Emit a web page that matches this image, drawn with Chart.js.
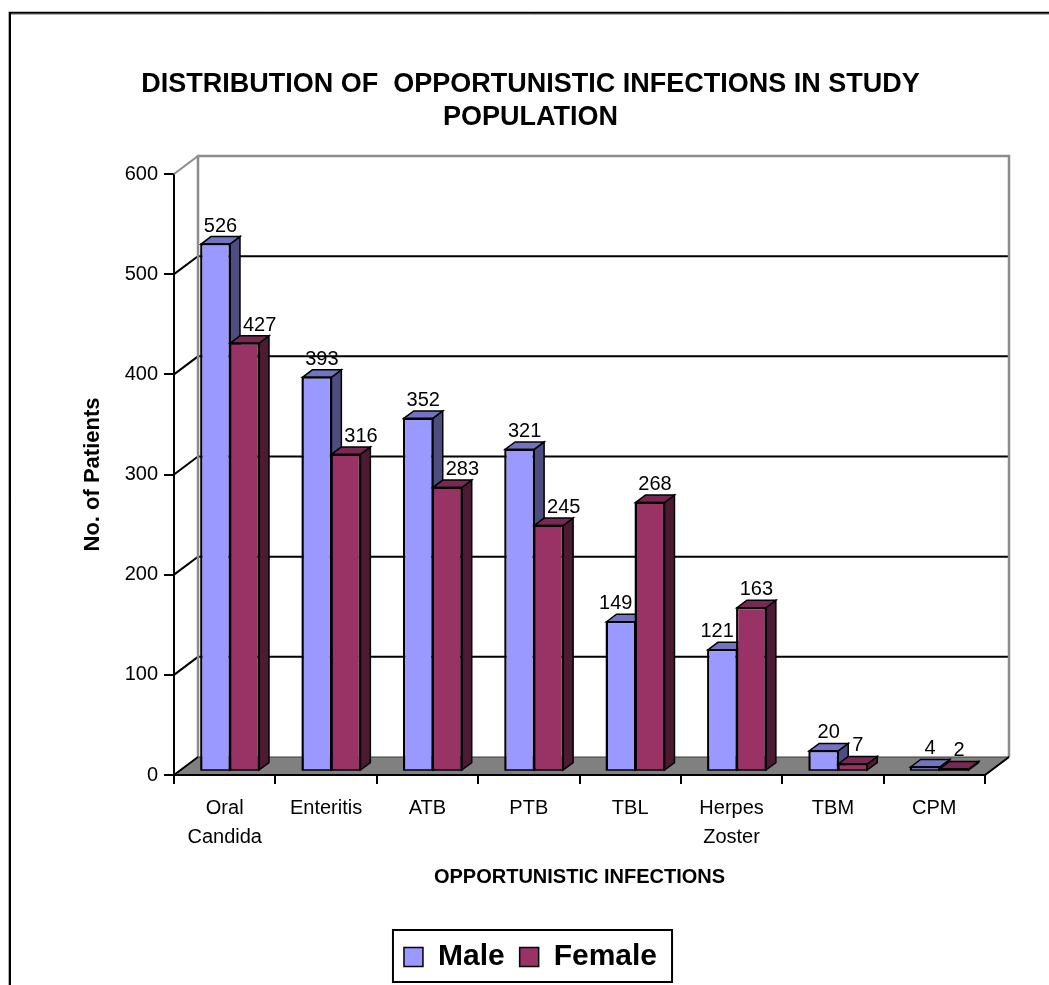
<!DOCTYPE html>
<html><head><meta charset="utf-8">
<style>html,body{margin:0;padding:0;background:#fff;} canvas{display:block;}</style>
<script src="https://cdn.jsdelivr.net/npm/chart.js@4.4.1/dist/chart.umd.min.js"></script>
</head><body>
<canvas id="c" width="1049" height="985" style="width:1049px;height:985px"></canvas>
<script>
// ---- data ----
const categories = [["Oral","Candida"],"Enteritis","ATB","PTB","TBL",["Herpes","Zoster"],"TBM","CPM"];
const maleValues = [526,393,352,321,149,121,20,4];
const femaleValues = [427,316,283,245,268,163,7,2];
const yTicks = [0,100,200,300,400,500,600];
const seriesNames = ["Male","Female"];
const titleLines = ["DISTRIBUTION OF  OPPORTUNISTIC INFECTIONS IN STUDY","POPULATION"];
const xTitle = "OPPORTUNISTIC INFECTIONS";
const yTitle = "No. of Patients";

// ---- style ----
const FONT = '"Liberation Sans", Arial, Helvetica, sans-serif';
const FACE = [
  {front:'#9999FF', top:'#7373C2', side:'#4D4D80'},
  {front:'#993366', top:'#772853', side:'#4D1A33'}
];
const WALL_DX = 24, WALL_DY = -18;   // depth of the 3D walls
const BAR_SX = 5.3, BAR_SY = -4;     // bar plane shift
const BAR_DX = 10, BAR_DY = -7.5;    // bar depth

const scene3d = {
  id: 'scene3d',
  beforeDraw(chart) {
    const ctx = chart.ctx;
    ctx.save();
    ctx.fillStyle = '#fff';
    ctx.fillRect(0, 0, chart.width, chart.height);
    ctx.strokeStyle = '#b0b0b0'; ctx.lineWidth = 1;
    ctx.beginPath(); ctx.moveTo(8.5, 985); ctx.lineTo(8.5, 11.5); ctx.stroke();
    ctx.beginPath(); ctx.moveTo(10, 14.5); ctx.lineTo(1049, 14.5); ctx.stroke();
    ctx.strokeStyle = '#000'; ctx.lineWidth = 2;
    ctx.beginPath(); ctx.moveTo(10, 985); ctx.lineTo(10, 12.7); ctx.lineTo(1049, 12.7); ctx.stroke();
    ctx.restore();
  },
  beforeDatasetsDraw(chart) {
    const ctx = chart.ctx, a = chart.chartArea, ys = chart.scales.y;
    const L = a.left, R = a.right;
    const y0 = ys.getPixelForValue(0);
    const yTop = ys.getPixelForValue(ys.max);
    ctx.save();
    ctx.fillStyle = '#fff';
    ctx.fillRect(L + WALL_DX, yTop + WALL_DY, R - L, y0 - yTop);
    yTicks.forEach(v => {
      if (v === 0) return;
      const yp = ys.getPixelForValue(v);
      if (v === ys.max) {
        ctx.strokeStyle = '#8c8c8c'; ctx.lineWidth = 2;
        ctx.beginPath(); ctx.moveTo(L, yp); ctx.lineTo(L + WALL_DX, yp + WALL_DY); ctx.stroke();
      } else {
        ctx.strokeStyle = '#000'; ctx.lineWidth = 2;
        ctx.beginPath(); ctx.moveTo(L, yp); ctx.lineTo(L + WALL_DX, yp + WALL_DY);
        ctx.lineTo(R + WALL_DX, yp + WALL_DY); ctx.stroke();
      }
    });
    ctx.strokeStyle = '#8c8c8c'; ctx.lineWidth = 2.5;
    ctx.beginPath();
    ctx.moveTo(L + WALL_DX, y0 + WALL_DY);
    ctx.lineTo(L + WALL_DX, yTop + WALL_DY);
    ctx.lineTo(R + WALL_DX, yTop + WALL_DY);
    ctx.lineTo(R + WALL_DX, y0 + WALL_DY);
    ctx.stroke();
    ctx.beginPath();
    ctx.moveTo(L, y0); ctx.lineTo(R, y0);
    ctx.lineTo(R + WALL_DX, y0 + WALL_DY); ctx.lineTo(L + WALL_DX, y0 + WALL_DY);
    ctx.closePath();
    ctx.fillStyle = '#808080'; ctx.fill();
    ctx.strokeStyle = '#3a3a3a'; ctx.lineWidth = 1; ctx.stroke();
    ctx.strokeStyle = '#000'; ctx.lineWidth = 2;
    ctx.beginPath(); ctx.moveTo(L + WALL_DX, y0 + WALL_DY); ctx.lineTo(L, y0); ctx.lineTo(R, y0);
    ctx.lineTo(R + WALL_DX, y0 + WALL_DY); ctx.stroke();
    ctx.restore();
  },
  // bars are drawn below, category by category, so that 3D faces overlap correctly
  beforeDatasetDraw() { return false; },
  afterDatasetsDraw(chart) {
    const ctx = chart.ctx;
    const metas = [chart.getDatasetMeta(0), chart.getDatasetMeta(1)];
    ctx.save();
    ctx.translate(BAR_SX, BAR_SY);
    categories.forEach((c, i) => {
      metas.forEach((meta, di) => {
        const bar = meta.data[i];
        if (!bar) return;
        const col = FACE[di];
        bar.draw(ctx, chart.chartArea);
        const l = bar.x - bar.width / 2, r = bar.x + bar.width / 2, t = bar.y, b = bar.base;
        ctx.lineWidth = 1.5; ctx.strokeStyle = '#000'; ctx.lineJoin = 'miter';
        ctx.beginPath();
        ctx.moveTo(r, t); ctx.lineTo(r + BAR_DX, t + BAR_DY);
        ctx.lineTo(r + BAR_DX, b + BAR_DY); ctx.lineTo(r, b); ctx.closePath();
        ctx.fillStyle = col.side; ctx.fill(); ctx.stroke();
        ctx.beginPath();
        ctx.moveTo(l, t); ctx.lineTo(l + BAR_DX, t + BAR_DY);
        ctx.lineTo(r + BAR_DX, t + BAR_DY); ctx.lineTo(r, t); ctx.closePath();
        ctx.fillStyle = col.top; ctx.fill(); ctx.stroke();
        ctx.strokeRect(l, t, r - l, b - t);
      });
    });
    ctx.restore();

    // value labels
    ctx.save();
    ctx.font = '20px ' + FONT;
    ctx.fillStyle = '#000';
    ctx.textAlign = 'center';
    ctx.textBaseline = 'alphabetic';
    [0, 1].forEach(di => {
      const meta = metas[di], other = metas[1 - di];
      const vals = chart.data.datasets[di].data;
      meta.data.forEach((bar, i) => {
        const txt = String(vals[i]);
        const w = ctx.measureText(txt).width;
        let cx = bar.x + BAR_SX + BAR_DX / 2;
        const by = bar.y + BAR_SY + BAR_DY - 5;
        const ob = other.data[i];
        const oTop = ob.y + BAR_SY + BAR_DY;
        if (di === 1) {
          const mRight = ob.x + ob.width / 2 + BAR_SX + BAR_DX;
          if (by > oTop && cx - w / 2 < mRight + 3) cx = mRight + 3 + w / 2;
        } else {
          const fLeft = ob.x - ob.width / 2 + BAR_SX;
          if (by > oTop && cx + w / 2 > fLeft - 3) cx = fLeft - 3 - w / 2;
        }
        ctx.fillText(txt, cx, by);
      });
    });
    ctx.restore();
  },
  afterDraw(chart) {
    const lg = chart.legend;
    if (!lg || !lg.legendHitBoxes || !lg.legendHitBoxes.length) return;
    const hb = lg.legendHitBoxes;
    let left = Infinity, right = -Infinity;
    hb.forEach(b => { left = Math.min(left, b.left); right = Math.max(right, b.left + b.width); });
    const c = hb[0].top + hb[0].height / 2;
    const ctx = chart.ctx;
    ctx.save();
    ctx.strokeStyle = '#000'; ctx.lineWidth = 2;
    ctx.strokeRect(left - 11, c - 27, (right + 15) - (left - 11), 52);
    ctx.restore();
  }
};

new Chart(document.getElementById('c'), {
  type: 'bar',
  data: {
    labels: categories,
    datasets: [
      {label: seriesNames[0], data: maleValues, backgroundColor: FACE[0].front, borderColor: '#000',
       borderWidth: 1.5, clip: false, categoryPercentage: 0.572, barPercentage: 1.0},
      {label: seriesNames[1], data: femaleValues, backgroundColor: FACE[1].front, borderColor: '#000',
       borderWidth: 1.5, clip: false, categoryPercentage: 0.572, barPercentage: 1.0}
    ]
  },
  options: {
    responsive: false,
    devicePixelRatio: 1,
    animation: false,
    layout: {padding: {top: 0, left: 76, right: 64, bottom: 3}},
    plugins: {
      title: {
        display: true, text: titleLines, color: '#000',
        font: {family: FONT, size: 27, weight: 'bold', lineHeight: 1.2},
        padding: {top: 68.8, bottom: 40.4}
      },
      legend: {
        position: 'bottom',
        labels: {
          color: '#000', boxWidth: 19, boxHeight: 19, padding: 15,
          font: {family: FONT, size: 30, weight: 'bold'}
        }
      },
      tooltip: {enabled: false}
    },
    scales: {
      x: {
        type: 'category', offset: true,
        grid: {offset: true, drawOnChartArea: false, drawTicks: true, tickLength: 9, color: '#000', lineWidth: 2},
        border: {display: true, color: '#000', width: 2},
        ticks: {color: '#000', font: {family: FONT, size: 20, lineHeight: 1.45}, padding: 9.5,
                maxRotation: 0, minRotation: 0, autoSkip: false},
        title: {display: true, text: xTitle, color: '#000',
                font: {family: FONT, size: 20, weight: 'bold', lineHeight: 1.2},
                padding: {top: 0, bottom: 38}},
        afterFit: s => { s.height = 152; }
      },
      y: {
        min: 0, max: 600,
        grid: {drawOnChartArea: false, drawTicks: true, tickLength: 10, color: '#000', lineWidth: 2},
        border: {display: true, color: '#000', width: 2},
        ticks: {color: '#000', font: {family: FONT, size: 20}, padding: 6, stepSize: 100},
        afterBuildTicks: s => { s.ticks = yTicks.map(v => ({value: v})); },
        title: {display: true, text: yTitle, color: '#000',
                font: {family: FONT, size: 22, weight: 'bold', lineHeight: 1.2},
                padding: {top: 4, bottom: 0}},
        afterFit: s => { s.width = 98; }
      }
    }
  },
  plugins: [scene3d]
});
</script>
</body></html>
